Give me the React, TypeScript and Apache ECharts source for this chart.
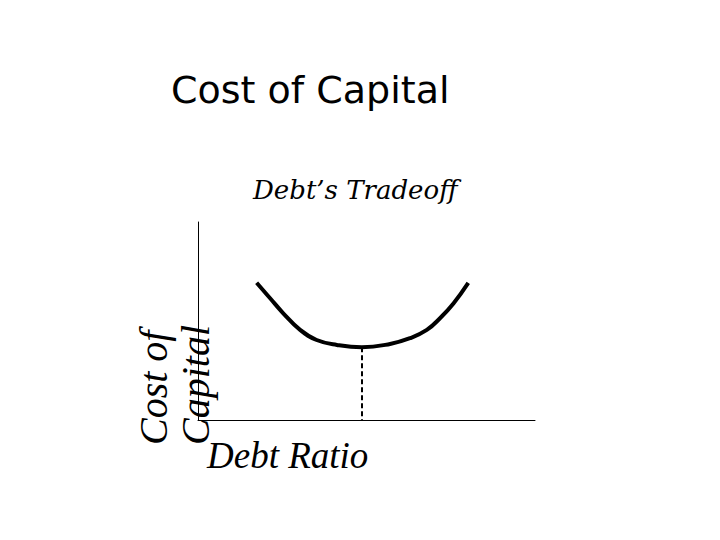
import React, { useEffect, useRef } from 'react';
import * as echarts from 'echarts';

// Curve (x: debt ratio 0-100, y: cost of capital 0-100)
const debtRatio = [17.4, 21.4, 25.3, 30.3, 35.2, 41.2, 48.6, 57.0, 62.9, 67.9, 71.8, 75.8, 80.2];
const costOfCapital = [69.3, 61.5, 53.9, 45.5, 40.4, 37.9, 36.7, 38.4, 41.3, 45.5, 51.4, 58.9, 69.3];

// optimum (minimum cost of capital)
const optimumRatio = 48.6;
const optimumCost = 36.7;

const titleText = 'Cost of Capital';
const subtitleText = 'Debt\u2019s Tradeoff';
const xName = 'Debt Ratio';
const yName = 'Cost of\nCapital';

const App: React.FC = () => {
  const chartRef = useRef<HTMLDivElement>(null);

  useEffect(() => {
    if (!chartRef.current) return;
    const chart = echarts.init(chartRef.current, undefined, { renderer: 'svg' });

    const option: echarts.EChartsOption = {
      animation: false,
      backgroundColor: '#fff',
      title: [
        {
          text: titleText,
          left: 171,
          top: 71,
          padding: 0,
          textStyle: { fontFamily: 'DejaVu Sans', fontSize: 38, fontWeight: 'normal', color: '#000' },
        },
        {
          text: subtitleText,
          left: 253,
          top: 177,
          padding: 0,
          textStyle: {
            fontFamily: 'DejaVu Serif',
            fontStyle: 'italic',
            fontSize: 26,
            fontWeight: 'normal',
            color: '#000',
          },
        },
      ],
      grid: { left: 198, top: 222, width: 337, height: 198, containLabel: false },
      xAxis: {
        type: 'value',
        min: 0,
        max: 100,
        name: xName,
        nameLocation: 'start',
        nameGap: -9,
        nameTextStyle: {
          fontFamily: 'Liberation Serif',
          fontStyle: 'italic',
          fontSize: 37,
          color: '#000',
          align: 'left',
          verticalAlign: 'top',
          lineHeight: 70,
        },
        axisLine: { show: true, lineStyle: { color: '#000', width: 1 } },
        axisTick: { show: false },
        axisLabel: { show: false },
        splitLine: { show: false },
      },
      yAxis: {
        type: 'value',
        min: 0,
        max: 100,
        axisLine: { show: true, lineStyle: { color: '#000', width: 1 } },
        axisTick: { show: false },
        axisLabel: { show: false },
        splitLine: { show: false },
      },
      graphic: [
        {
          type: 'text',
          x: 174,
          y: 445,
          rotation: Math.PI / 2,
          style: {
            text: yName,
            fontFamily: 'Liberation Serif',
            fontStyle: 'italic',
            fontSize: 40,
            lineHeight: 42,
            align: 'left',
            verticalAlign: 'middle',
            fill: '#000',
          },
        },
      ],
      series: [
        {
          type: 'line',
          data: debtRatio.map((x, i) => [x, costOfCapital[i]]),
          smooth: 0.45,
          showSymbol: false,
          lineStyle: { color: '#000', width: 4 },
          markLine: {
            silent: true,
            symbol: 'none',
            label: { show: false },
            lineStyle: { color: '#000', width: 2, type: [5, 3] },
            data: [[{ coord: [optimumRatio, optimumCost] }, { coord: [optimumRatio, 0] }]],
          },
        },
      ],
    };

    chart.setOption(option);

    return () => {
      chart.dispose();
    };
  }, []);

  return <div ref={chartRef} style={{ position: 'fixed', left: 0, top: 0, width: 720, height: 540 }} />;
};

export default App;
